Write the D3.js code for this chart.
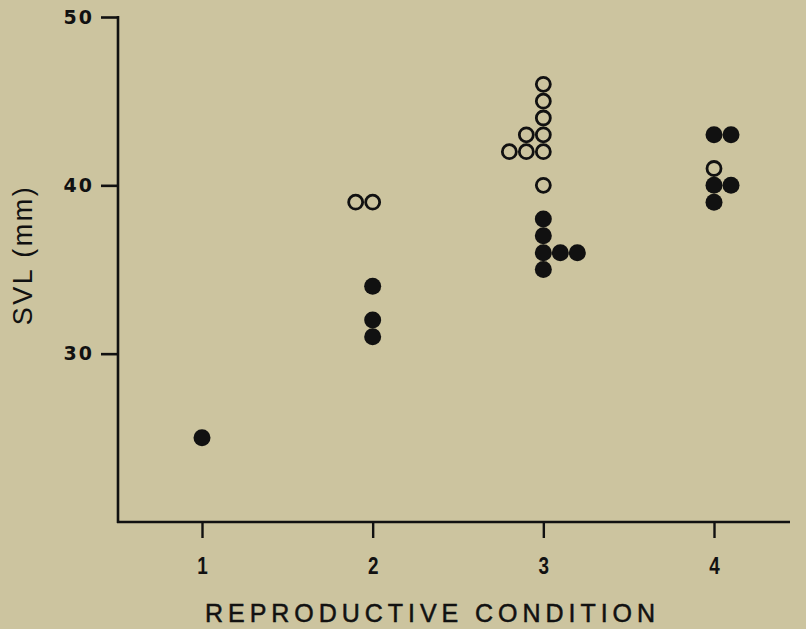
<!DOCTYPE html>
<html>
<head>
<meta charset="utf-8">
<script src="https://cdn.jsdelivr.net/npm/d3@7"></script>
<style>
  html, body { margin: 0; padding: 0; background: #ccc49f; }
  svg { display: block; }
</style>
</head>
<body>
<svg id="chart" width="806" height="629"></svg>
<script>
// Snout-vent length (mm) by reproductive condition
const conditions = [1, 2, 3, 4];
const yTicks = [30, 40, 50];

// open circles
const openCond = [2, 2, 3, 3, 3, 3, 3, 3, 3, 3, 3, 4];
const openSVL  = [39, 39, 46, 45, 44, 43, 43, 42, 42, 42, 40, 41];
// filled circles
const filledCond = [1, 2, 2, 2, 3, 3, 3, 3, 3, 3, 4, 4, 4, 4, 4];
const filledSVL  = [25, 34, 32, 31, 38, 37, 36, 36, 36, 35, 43, 43, 40, 40, 39];

const W = 806, H = 629;
const svg = d3.select("#chart");
const ink = "#111";

const x = d3.scaleLinear().domain([1, 4]).range([202, 714]);
const y = d3.scaleLinear().domain([20, 50]).range([522, 17]);
const axisLeftX = 118, axisRightX = 790;
const r = 8.5;

svg.append("rect").attr("width", W).attr("height", H).attr("fill", "#ccc49f");

// y axis
const gy = svg.append("g").attr("transform", `translate(${axisLeftX},0)`)
  .call(d3.axisLeft(y).tickValues(yTicks).tickSize(17).tickPadding(7).tickFormat(d3.format("d")));
gy.select(".domain").remove();
gy.selectAll(".tick line").attr("stroke", ink).attr("stroke-width", 2.6);
gy.selectAll(".tick text").attr("fill", ink)
  .style("font-family", "'DejaVu Sans', sans-serif")
  .style("font-weight", "bold").style("font-size", "19px").style("letter-spacing", "2px");
svg.append("line").attr("x1", axisLeftX).attr("x2", axisLeftX)
  .attr("y1", y(50) - 1).attr("y2", y(20) + 1)
  .attr("stroke", ink).attr("stroke-width", 2.6);

// x axis
const gx = svg.append("g").attr("transform", `translate(0,${y(20)})`)
  .call(d3.axisBottom(x).tickValues(conditions).tickSize(16).tickPadding(20).tickFormat(d3.format("d")));
gx.select(".domain").remove();
gx.selectAll(".tick line").attr("stroke", ink).attr("stroke-width", 2.4);
gx.selectAll(".tick text").attr("fill", ink)
  .attr("transform", "scale(0.82,1)")
  .style("font-family", "'Liberation Sans', Arial, sans-serif")
  .style("font-weight", "bold").style("font-size", "23px");
svg.append("line").attr("x1", axisLeftX - 1).attr("x2", axisRightX)
  .attr("y1", y(20)).attr("y2", y(20))
  .attr("stroke", ink).attr("stroke-width", 2.6);

// axis titles
svg.append("text")
  .attr("x", 430).attr("y", 622)
  .attr("text-anchor", "middle")
  .attr("textLength", 450).attr("lengthAdjust", "spacing")
  .attr("fill", ink)
  .attr("stroke", ink).attr("stroke-width", 0.5)
  .style("font-family", "'Liberation Sans', Arial, sans-serif")
  .style("font-size", "25px")
  .text("REPRODUCTIVE CONDITION");

svg.append("text")
  .attr("transform", `translate(32,255) rotate(-90)`)
  .attr("text-anchor", "middle")
  .attr("fill", ink)
  .style("font-family", "'Liberation Sans', Arial, sans-serif")
  .style("font-size", "27px")
  .style("letter-spacing", "2.5px")
  .text("SVL (mm)");

// equal values in a condition sit side by side: open to the left, filled to the right
function arrange(conds, vals, dir) {
  const seen = new Map();
  return conds.map((c, i) => {
    const key = c + "|" + vals[i];
    const k = seen.get(key) || 0;
    seen.set(key, k + 1);
    return { c, v: vals[i], k: dir * k };
  });
}
const openPts = arrange(openCond, openSVL, -1);
const filledPts = arrange(filledCond, filledSVL, 1);
const step = 17;

svg.append("g").selectAll("circle").data(filledPts).join("circle")
  .attr("cx", d => x(d.c) + d.k * step)
  .attr("cy", d => y(d.v))
  .attr("r", r)
  .attr("fill", ink);

svg.append("g").selectAll("circle").data(openPts).join("circle")
  .attr("cx", d => x(d.c) + d.k * step)
  .attr("cy", d => y(d.v))
  .attr("r", r - 1.5)
  .attr("fill", "none")
  .attr("stroke", ink)
  .attr("stroke-width", 2.8);
</script>
</body>
</html>
